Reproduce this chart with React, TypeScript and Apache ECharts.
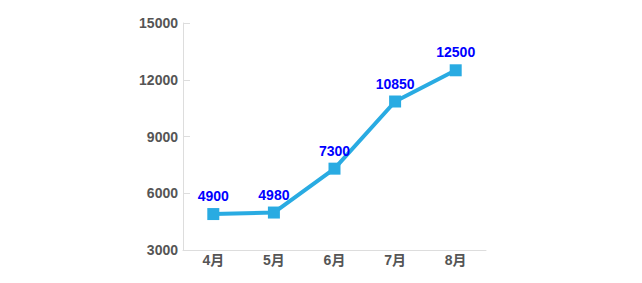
import React, { useEffect, useRef } from "react";
import * as echarts from "echarts";

const categories = ["4月", "5月", "6月", "7月", "8月"];
const values = [4900, 4980, 7300, 10850, 12500];
const yMin = 3000;
const yMax = 15000;
const yInterval = 3000;

export default function App() {
  const ref = useRef<HTMLDivElement>(null);
  useEffect(() => {
    document.body.style.margin = "0";
    const chart = echarts.init(ref.current!, null, { renderer: "svg" });
    chart.setOption({
      animation: false,
      grid: { left: 183, right: 156, top: 23, bottom: 33 },
      xAxis: {
        type: "category",
        data: categories,
        boundaryGap: true,
        axisLine: { lineStyle: { color: "#dddddd", width: 1 } },
        axisTick: { inside: true, length: 5, lineStyle: { color: "#dddddd" } },
        axisLabel: {
          color: "#555555",
          fontWeight: "bold",
          fontSize: 14,
          fontFamily: "Liberation Sans, Noto Sans CJK JP, sans-serif",
          margin: 3,
        },
      },
      yAxis: {
        type: "value",
        min: yMin,
        max: yMax,
        interval: yInterval,
        splitLine: { show: false },
        axisLine: { show: true, lineStyle: { color: "#dddddd", width: 1 } },
        axisTick: { show: true, inside: true, length: 7, lineStyle: { color: "#dddddd" } },
        axisLabel: {
          color: "#555555",
          fontWeight: "bold",
          fontSize: 14,
          fontFamily: "Liberation Sans, sans-serif",
          margin: 5,
          formatter: (v: number) => String(v),
        },
      },
      series: [
        {
          type: "line",
          data: values,
          symbol: "rect",
          symbolSize: 12,
          lineStyle: { color: "#29abe2", width: 4 },
          itemStyle: { color: "#29abe2" },
          label: {
            show: true,
            position: "top",
            distance: 5,
            color: "#0000ff",
            fontWeight: "bold",
            fontSize: 14,
            fontFamily: "Liberation Sans, sans-serif",
          },
        },
      ],
    });
    return () => chart.dispose();
  }, []);
  return <div ref={ref} style={{ width: 642, height: 283 }} />;
}
